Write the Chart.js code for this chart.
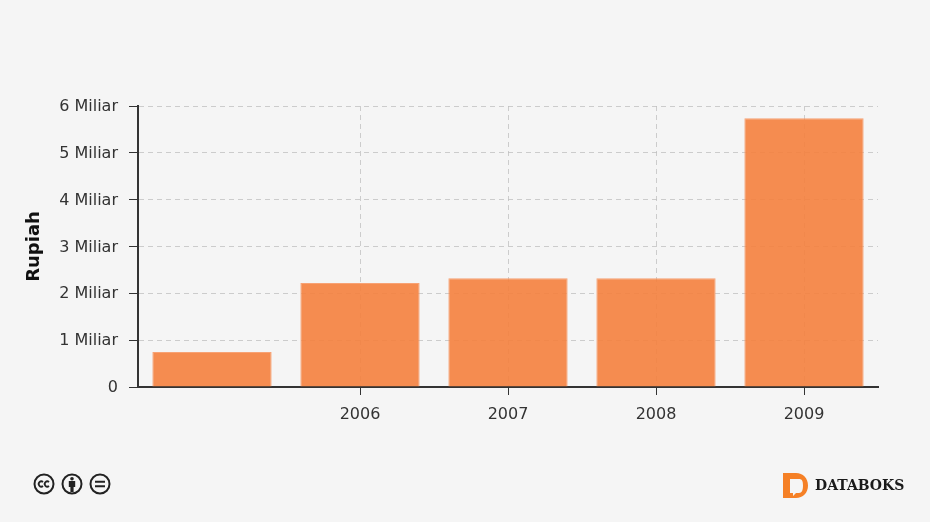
<!DOCTYPE html>
<html>
<head>
<meta charset="utf-8">
<title>Rupiah</title>
<script src="https://cdn.jsdelivr.net/npm/chart.js@4"></script>
<style>
  html, body { margin: 0; padding: 0; background: #f5f5f5; }
  #wrap { position: relative; width: 930px; height: 522px; overflow: hidden; }
  #chart { position: absolute; left: 0; top: 0; }
  .cc { position: absolute; left: 33px; top: 473px; }
  .logo { position: absolute; left: 783px; top: 472px; }
  .brand { position: absolute; left: 815px; top: 477px; font: bold 14px "DejaVu Serif", serif; color: #1a1a1a; }
</style>
</head>
<body>
<div id="wrap">
  <canvas id="chart" width="930" height="522"></canvas>
  <svg class="cc" width="80" height="22" viewBox="0 0 80 22" fill="none" stroke="#222" stroke-width="2">
    <circle cx="11" cy="11" r="9.5"/>
    <path d="M10 9a2.6 2.6 0 1 0 0 4M16 9a2.6 2.6 0 1 0 0 4" stroke-width="1.8"/>
    <circle cx="39" cy="11" r="9.5"/>
    <circle cx="39" cy="5.800" r="1.800" fill="#222" stroke="none"/>
    <path d="M35.800 8h6.400v6h-1.600v5h-3.200v-5h-1.600z" fill="#222" stroke="none"/>
    <circle cx="67" cy="11" r="9.5"/>
    <path d="M62 8.800h10M62 13.200h10" stroke-width="2"/>
  </svg>
  <svg class="logo" width="26" height="27" viewBox="0 0 26 27">
    <path fill-rule="evenodd" fill="#f58026" d="M0 1h13c7 0 12 5 12 12.500S20 26 13 26H0zM7 7v14h3v3l3-3h3c3 0 4-3 4-7.500S19 7 16 7z"/>
  </svg>
  <div class="brand">DATABOKS</div>
</div>
<script>
// chart data
const years = ["", "2006", "2007", "2008", "2009"];
const rupiah = [750000000, 2220000000, 2320000000, 2320000000, 5740000000];
const yTicks = [0, 1, 2, 3, 4, 5, 6];
const unit = 1000000000;

const textColor = "#333333";
const axisColor = "#333333";
const gridColor = "rgba(190,190,190,0.75)";

const ctx = document.getElementById("chart").getContext("2d");

const chart = new Chart(ctx, {
  type: "bar",
  data: {
    labels: years,
    datasets: [{
      label: "Rupiah",
      data: rupiah,
      backgroundColor: "rgba(244,131,67,0.93)",
      borderColor: "rgba(247,155,105,0.93)",
      borderWidth: 1,
      categoryPercentage: 0.806,
      barPercentage: 1
    }]
  },
  options: {
    responsive: false,
    animation: false,
    layout: { padding: { top: 106, right: 52, bottom: 0, left: 0 } },
    plugins: {
      legend: { display: false },
      tooltip: { enabled: false },
      title: { display: false }
    },
    scales: {
      x: {
        afterFit: s => { s.height = 135; },
        border: { color: axisColor, width: 2, dash: [5, 4] },
        grid: {
          offset: false,
          color: c => (c.index === 0 ? "transparent" : gridColor),
          tickColor: c => (c.index === 0 ? "transparent" : axisColor),
          tickBorderDash: [],
          tickLength: 8
        },
        ticks: {
          color: textColor,
          maxRotation: 0,
          padding: 10,
          font: { family: "'DejaVu Sans'", size: 16 }
        }
      },
      y: {
        min: 0,
        max: 6 * unit,
        afterFit: s => { s.width = 138; },
        afterBuildTicks: s => { s.ticks = yTicks.map(v => ({ value: v * unit })); },
        border: { color: axisColor, width: 2, dash: [5, 4] },
        grid: {
          color: gridColor,
          tickColor: axisColor,
          tickBorderDash: [],
          tickLength: 9
        },
        ticks: {
          color: textColor,
          padding: 11,
          labelOffset: 1,
          font: { family: "'DejaVu Sans'", size: 16 },
          callback: v => (v === 0 ? "0" : (v / unit) + " Miliar")
        },
        title: {
          display: true,
          text: "Rupiah",
          color: "#111111",
          padding: { top: 24, bottom: 0 },
          font: { family: "'DejaVu Sans'", size: 18, weight: "bold" }
        }
      }
    }
  }
});
</script>
</body>
</html>
